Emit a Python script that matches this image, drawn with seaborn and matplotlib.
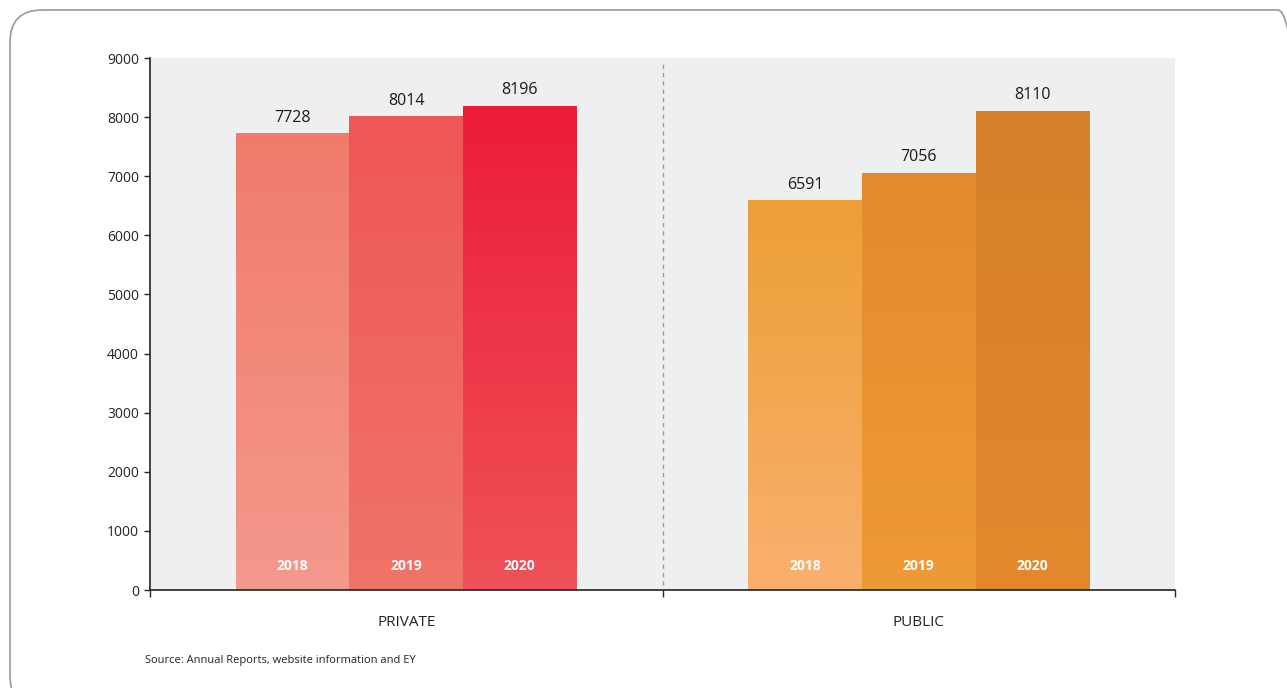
import matplotlib
matplotlib.use("Agg")
import matplotlib.pyplot as plt
import matplotlib.colors as mcolors
from matplotlib.patches import FancyBboxPatch
import seaborn as sns
import numpy as np
import pandas as pd

# data
sectors = ["PRIVATE", "PUBLIC"]
years = ["2018", "2019", "2020"]
private_values = [7728, 8014, 8196]
public_values = [6591, 7056, 8110]

# top / bottom colours of each bar gradient
private_top = ["#F07B6B", "#EE5657", "#EC1C38"]
private_bottom = ["#F4998D", "#F07468", "#EF5258"]
public_top = ["#EC9F36", "#E58A2E", "#D48029"]
public_bottom = ["#F9B06E", "#EE9A36", "#E4882D"]

df = pd.DataFrame({
    "sector": [s for s in sectors for _ in years],
    "year": years * 2,
    "value": private_values + public_values,
})

sns.set_style("white")
plt.rcParams["font.family"] = ["Open Sans", "DejaVu Sans"]

fig = plt.figure(figsize=(12.87, 6.88), dpi=100)
ax = fig.add_axes([150 / 1287, 1 - 590 / 688, 1025 / 1287, 532 / 688])
ax.set_facecolor("#EEEFF0")

sns.barplot(data=df, x="sector", y="value", hue="year", ax=ax,
            width=0.665, gap=0.0, edgecolor="white", linewidth=0.8,
            palette=["#F07B6B"] * 3, legend=False, saturation=1)

tops = {}
bottoms = {}
for i in range(3):
    tops[(0, i)] = private_top[i]
    tops[(1, i)] = public_top[i]
    bottoms[(0, i)] = private_bottom[i]
    bottoms[(1, i)] = public_bottom[i]

# gradient fill clipped to each seaborn bar, plus labels
bars = [p for p in ax.patches if p.get_height() > 0]
for bar in bars:
    x0 = bar.get_x()
    w = bar.get_width()
    h = bar.get_height()
    cat = int(round(x0 + w / 2))
    hue_i = int(round((x0 + w / 2 - cat) / w)) + 1
    top_c = np.array(mcolors.to_rgb(tops[(cat, hue_i)]))
    bot_c = np.array(mcolors.to_rgb(bottoms[(cat, hue_i)]))
    t = np.linspace(0, 1, 256)[:, None]
    grad = (top_c * (1 - t) + bot_c * t)[:, None, :]
    bar.set_facecolor(tops[(cat, hue_i)])
    img = ax.imshow(grad, extent=[x0, x0 + w, 0, h], aspect="auto",
                    zorder=bar.get_zorder() + 0.1, interpolation="bicubic")
    img.set_clip_path(bar)
    ax.text(x0 + w / 2, h + 130, f"{int(h)}", ha="center", va="bottom",
            fontsize=11.5, color="#1a1a1a")
    ax.text(x0 + w / 2, 400, years[hue_i], ha="center", va="center",
            fontsize=10, color="white", fontweight="bold", zorder=5)

ax.set_xlim(-0.5, 1.5)
ax.set_ylim(0, 9000)
ax.set_yticks(range(0, 9001, 1000))
ax.tick_params(axis="y", labelsize=10, labelcolor="#222222", length=4,
               width=1, left=True, direction="out", pad=4)

ax.set_xticks([-0.5, 0.5, 1.5])
ax.set_xticklabels([])
ax.set_xticks([0, 1], minor=True)
ax.set_xticklabels(sectors, minor=True, fontsize=11, color="#222222")
ax.tick_params(axis="x", which="major", length=5, width=1, bottom=True, direction="out")
ax.tick_params(axis="x", which="minor", length=0, pad=18)

ax.axvline(0.5, ymin=0.01, ymax=0.99, color="#999999", linestyle=(0, (3, 3)), linewidth=1)

ax.set_xlabel("")
ax.set_ylabel("")
for side in ["top", "right"]:
    ax.spines[side].set_visible(False)
for side in ["left", "bottom"]:
    ax.spines[side].set_color("#222222")
    ax.spines[side].set_linewidth(1.2)

fig.text(145 / 1287, 1 - 660 / 688, "Source: Annual Reports, website information and EY",
         fontsize=8, color="#222222", ha="left", va="center")

# rounded frame around the chart (cut off at right and bottom)
frame = FancyBboxPatch((10 / 1287, -20 / 688), 1300 / 1287, 698 / 688,
                       boxstyle="round,pad=0,rounding_size=0.025",
                       transform=fig.transFigure, fill=False,
                       edgecolor="#9a9a9a", linewidth=1.2,
                       mutation_aspect=1287 / 688)
fig.patches.append(frame)

fig.savefig("out.png", dpi=100)
